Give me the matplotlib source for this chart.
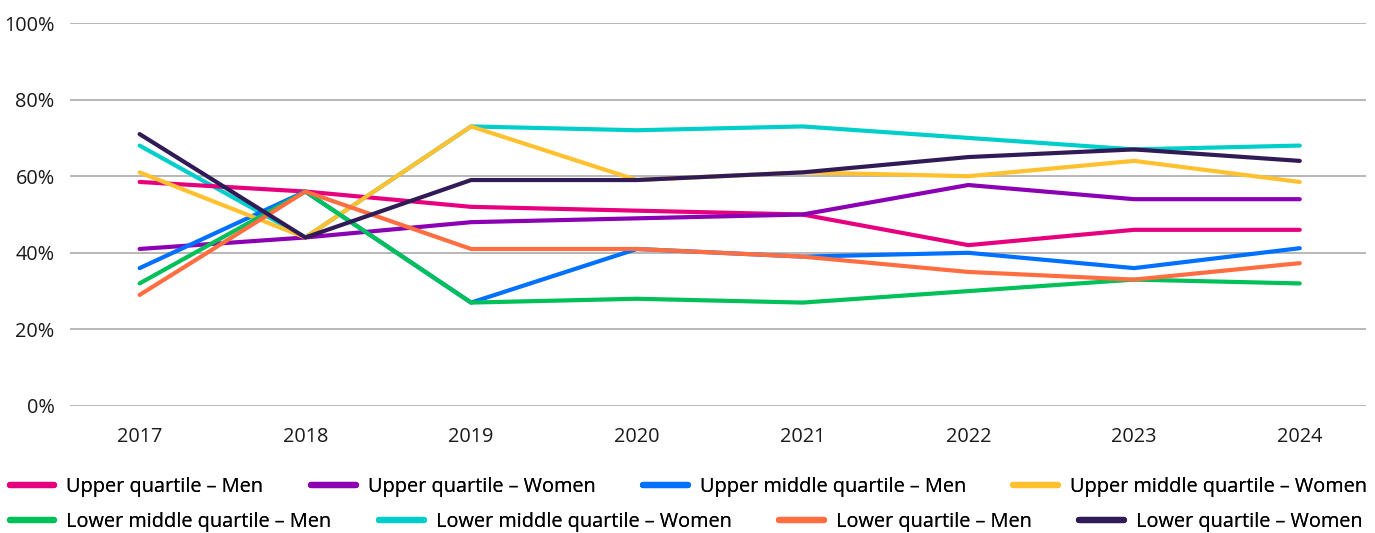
import matplotlib
matplotlib.use("Agg")
import matplotlib.pyplot as plt
from matplotlib.lines import Line2D

plt.rcParams['font.family'] = ['Open Sans', 'DejaVu Sans']

years = [2017, 2018, 2019, 2020, 2021, 2022, 2023, 2024]

upper_men = [58.5, 56, 52, 51, 50, 42, 46, 46]
upper_women = [41, 44, 48, 49, 50, 57.7, 54, 54]
upper_mid_men = [36, 56, 27, 41, 39, 40, 36, 41.2]
upper_mid_women = [61, 44, 73, 59, 61, 60, 64, 58.5]
lower_mid_men = [32, 56, 27, 28, 27, 30, 33, 32]
lower_mid_women = [68, 44, 73, 72, 73, 70, 67, 68]
lower_men = [29, 56, 41, 41, 39, 35, 33, 37.3]
lower_women = [71, 44, 59, 59, 61, 65, 67, 64]

labels = ["Upper quartile \u2013 Men", "Upper quartile \u2013 Women",
          "Upper middle quartile \u2013 Men", "Upper middle quartile \u2013 Women",
          "Lower middle quartile \u2013 Men", "Lower middle quartile \u2013 Women",
          "Lower quartile \u2013 Men", "Lower quartile \u2013 Women"]
colors = ["#E6007E", "#8C00B4", "#0070FF", "#FFC12F",
          "#00C05A", "#00CECB", "#FF6E40", "#311B57"]
series = [upper_men, upper_women, upper_mid_men, upper_mid_women,
          lower_mid_men, lower_mid_women, lower_men, lower_women]
# cyan sits under yellow in the original
zorders = [3, 3, 3, 3, 3, 2.5, 3, 3]

fig = plt.figure(figsize=(13.75, 5.33), dpi=100)
ax = fig.add_axes([0.0509, 0.2383, 0.9426, 0.7185])

for vals, c, z in zip(series, colors, zorders):
    ax.plot(years, vals, color=c, lw=3, solid_capstyle='round',
            solid_joinstyle='round', zorder=z)

ax.set_ylim(0, 100)
ax.set_xlim(2016.58, 2024.4)
ax.set_yticks([0, 20, 40, 60, 80, 100])
ax.set_yticklabels([f"{v}%" for v in [0, 20, 40, 60, 80, 100]])
ax.set_xticks(years)
ax.grid(axis='y', color='#ABABAB', lw=1.2)
ax.set_axisbelow(True)
for s in ax.spines.values():
    s.set_visible(False)
ax.tick_params(length=0, labelsize=14.3, colors='#1a1a1a')
ax.tick_params(axis='y', pad=11)
ax.tick_params(axis='x', pad=15)

handles = [Line2D([], [], color=c, lw=4.5, solid_capstyle='round') for c in colors]
rows = [(0, 0.0863), (4, 0.0206)]
for start, y in rows:
    leg = fig.legend(handles[start:start + 4], labels[start:start + 4], ncol=4,
                     loc='center left', bbox_to_anchor=(0.007, y), frameon=False,
                     fontsize=14.3, handlelength=2.25, handletextpad=0.6,
                     columnspacing=2.4, borderpad=0, borderaxespad=0)
    fig.add_artist(leg)

fig.savefig("out.png", dpi=100)
